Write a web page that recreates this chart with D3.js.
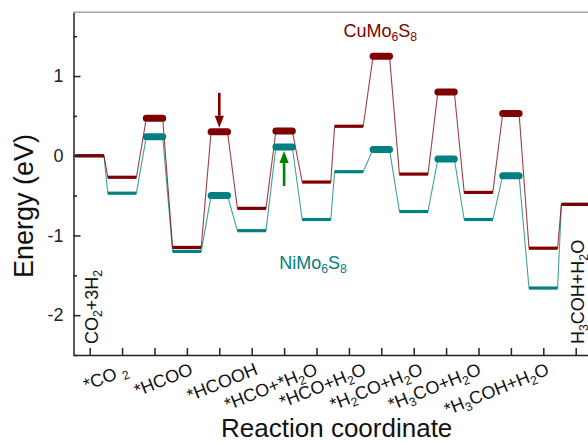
<!DOCTYPE html>
<html>
<head>
<meta charset="utf-8">
<script src="https://cdn.jsdelivr.net/npm/d3@7"></script>
<style>
  body { margin: 0; background: #fff; }
  svg { display: block; font-family: "Liberation Sans", Arial, sans-serif; }
</style>
</head>
<body>
<svg></svg>
<script>
let width = 588
let height = 442

// reaction steps along the coordinate (0 = CO2+3H2 ... 15 = H3COH+H2O)
let steps = d3.range(16)
let cuEnergy = [0, -0.27, 0.47, -1.15, 0.30, -0.66, 0.31, -0.33, 0.37, 1.25, -0.23, 0.80, -0.46, 0.53, -1.16, -0.61]
let niEnergy = [0, -0.47, 0.24, -1.20, -0.50, -0.94, 0.11, -0.80, -0.20, 0.08, -0.70, -0.04, -0.80, -0.25, -1.66, -0.61]
let isTransition = [0, 0, 1, 0, 1, 0, 1, 0, 0, 1, 0, 1, 0, 1, 0, 0]

// slanted labels of the intermediates, "_n" marks a subscript
let stepLabels = ['*CO _2', '*HCOO', '*HCOOH', '*HCO+*H_2O', '*HCO+H_2O', '*H_2CO+H_2O', '*H_3CO+H_2O', '*H_3COH+H_2O']
let stepLabelAt = [1, 3, 5, 6.85, 8.35, 10.1, 11.9, 14]
// upright labels of the start and end states
let endLabels = ['CO_2+3H_2', 'H_3COH+H_2O']
let endLabelAt = [0, 15]

let yMajor = [-2, -1, 0, 1]
let yMinor = [-2.5, -1.5, -0.5, 0.5, 1.5]

let series = [
    { name: 'NiMo_6S_8', energy: niEnergy, color: '#008080', labelAt: [5.85, -1.42] },
    { name: 'CuMo_6S_8', energy: cuEnergy, color: '#800000', labelAt: [7.83, 1.49] }
]
let arrows = [
    { step: 4, series: 1, dir: 'down', color: '#800000' },
    { step: 6, series: 0, dir: 'up', color: '#008000' }
]

let x = d3.scaleLinear().domain([-0.5, 16]).range([73.5, 608.1])
let y = d3.scaleLinear().domain([-2.5, 1.8]).range([355, 12.3])

let svg = d3.select('svg')
    .attr('width', width)
    .attr('height', height)

let halfWidth = i => isTransition[i] ? 8.2 : 14.3

function richText(sel, str) {
    let parts = str.split(/_(\d)/)
    parts.forEach((p, k) => {
        if (p === '') return
        if (k % 2 === 1) {
            sel.append('tspan').attr('font-size', '0.68em').attr('baseline-shift', '-32%').text(p)
        } else {
            sel.append('tspan').text(p)
        }
    })
}

// frame top line
svg.append('line')
    .attr('x1', x.range()[0]).attr('x2', x.range()[1])
    .attr('y1', y.range()[1]).attr('y2', y.range()[1])
    .attr('stroke', '#a8a8a8').attr('stroke-width', 1.5)

// connectors
let connector = d3.line()
series.forEach(s => {
    let pts = []
    steps.forEach(i => {
        pts.push([x(i) - halfWidth(i), y(s.energy[i])])
        pts.push([x(i) + halfWidth(i), y(s.energy[i])])
    })
    svg.append('path')
        .attr('d', connector(pts))
        .attr('fill', 'none')
        .attr('stroke', s.color)
        .attr('stroke-opacity', 0.75)
        .attr('stroke-width', 1.1)
})

// levels
series.forEach(s => {
    svg.append('g').selectAll('line')
        .data(steps).enter()
        .append('line')
        .attr('x1', i => x(i) - halfWidth(i))
        .attr('x2', i => x(i) + halfWidth(i))
        .attr('y1', i => y(s.energy[i]))
        .attr('y2', i => y(s.energy[i]))
        .attr('stroke', s.color)
        .attr('stroke-width', i => isTransition[i] ? 7 : 3.2)
        .attr('stroke-linecap', i => isTransition[i] ? 'round' : 'butt')
})

// arrows
arrows.forEach(a => {
    let cx = x(a.step)
    let e = y(series[a.series].energy[a.step])
    let sign = a.dir === 'down' ? -1 : 1
    let tip = e + sign * 4
    let tail = tip + sign * 35
    let head = tip + sign * 12
    svg.append('line')
        .attr('x1', cx).attr('x2', cx)
        .attr('y1', tail).attr('y2', head)
        .attr('stroke', a.color).attr('stroke-width', 2.6)
    svg.append('path')
        .attr('d', `M${cx},${tip}L${cx - 4.6},${head}L${cx + 4.6},${head}Z`)
        .attr('fill', a.color)
})

// series names
series.forEach(s => {
    let t = svg.append('text')
        .attr('x', x(s.labelAt[0]))
        .attr('y', y(s.labelAt[1]))
        .attr('fill', s.color)
        .attr('font-size', 18)
    richText(t, s.name)
})

// axes
let xAxis = svg.append('g')
    .attr('transform', `translate(0,${y.range()[0]})`)
    .call(d3.axisBottom(x).tickValues(steps).tickSizeInner(-7).tickSizeOuter(0).tickFormat(''))
let yAxis = svg.append('g')
    .attr('transform', `translate(${x.range()[0]},0)`)
    .call(d3.axisLeft(y).tickValues(yMajor).tickSizeInner(-7).tickSizeOuter(0).tickPadding(10)
        .tickFormat(d3.format('d')))
let yMinorAxis = svg.append('g')
    .attr('transform', `translate(${x.range()[0]},0)`)
    .call(d3.axisLeft(y).tickValues(yMinor).tickSizeInner(-3.5).tickSizeOuter(0).tickFormat(''))
yMinorAxis.select('.domain').remove()
svg.selectAll('.domain, .tick line').attr('stroke', '#222').attr('stroke-width', 1.5)
yAxis.selectAll('.tick text')
    .attr('font-size', 18)
    .attr('fill', '#222')
    .attr('font-family', '"Liberation Sans", Arial, sans-serif')
    .text(d => d < 0 ? '-' + Math.abs(d) : d)

// slanted step labels
stepLabels.forEach((lab, k) => {
    let t = svg.append('text')
        .attr('transform', `translate(${x(stepLabelAt[k]) + 7},${y.range()[0] + 19}) rotate(-22)`)
        .attr('text-anchor', 'end')
        .attr('font-size', 18)
        .attr('fill', '#111')
    richText(t, lab)
})

// upright labels
endLabels.forEach((lab, k) => {
    let t = svg.append('text')
        .attr('transform', `translate(${x(endLabelAt[k]) + 8},${y.range()[0] - 11}) rotate(-90)`)
        .attr('font-size', 18)
        .attr('fill', '#111')
    richText(t, lab)
})

// titles
svg.append('text')
    .attr('transform', `translate(33,206) rotate(-90)`)
    .attr('text-anchor', 'middle')
    .attr('font-size', 27)
    .attr('fill', '#111')
    .text('Energy (eV)')
svg.append('text')
    .attr('x', 336.7).attr('y', 437)
    .attr('text-anchor', 'middle')
    .attr('font-size', 26)
    .attr('fill', '#111')
    .text('Reaction coordinate')
</script>
</body>
</html>
